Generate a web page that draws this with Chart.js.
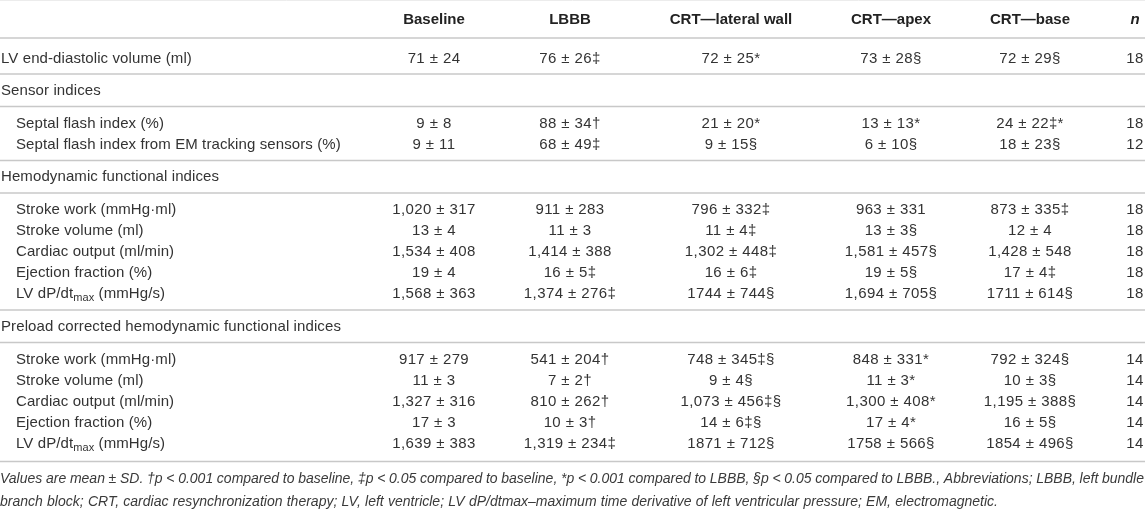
<!DOCTYPE html>
<html>
<head>
<meta charset="utf-8">
<script src="https://cdn.jsdelivr.net/npm/chart.js@4.4.1/dist/chart.umd.min.js"></script>
<style>
  html, body { margin: 0; padding: 0; background: #ffffff; }
  #wrap { width: 1145px; height: 509px; position: relative; }
</style>
</head>
<body>
<div id="wrap"><canvas id="c"></canvas></div>
<script>
// ---------------- DATA ----------------
const columns = ["Baseline", "LBBB", "CRT\u2014lateral wall", "CRT\u2014apex", "CRT\u2014base", "n"];

const sectionTitles = ["", "Sensor indices", "Hemodynamic functional indices", "Preload corrected hemodynamic functional indices"];
const sectionSizes = [1, 2, 5, 5];

const rowLabels = [
  "LV end-diastolic volume (ml)",
  "Septal flash index (%)",
  "Septal flash index from EM tracking sensors (%)",
  "Stroke work (mmHg\u00b7ml)",
  "Stroke volume (ml)",
  "Cardiac output (ml/min)",
  "Ejection fraction (%)",
  "LV dP/dt_{max} (mmHg/s)",
  "Stroke work (mmHg\u00b7ml)",
  "Stroke volume (ml)",
  "Cardiac output (ml/min)",
  "Ejection fraction (%)",
  "LV dP/dt_{max} (mmHg/s)"
];

const baseline = ["71 ± 24", "9 ± 8", "9 ± 11", "1,020 ± 317", "13 ± 4", "1,534 ± 408", "19 ± 4", "1,568 ± 363",
                  "917 ± 279", "11 ± 3", "1,327 ± 316", "17 ± 3", "1,639 ± 383"];
const lbbb = ["76 ± 26‡", "88 ± 34†", "68 ± 49‡", "911 ± 283", "11 ± 3", "1,414 ± 388", "16 ± 5‡", "1,374 ± 276‡",
              "541 ± 204†", "7 ± 2†", "810 ± 262†", "10 ± 3†", "1,319 ± 234‡"];
const crtLateral = ["72 ± 25*", "21 ± 20*", "9 ± 15§", "796 ± 332‡", "11 ± 4‡", "1,302 ± 448‡", "16 ± 6‡", "1744 ± 744§",
                    "748 ± 345‡§", "9 ± 4§", "1,073 ± 456‡§", "14 ± 6‡§", "1871 ± 712§"];
const crtApex = ["73 ± 28§", "13 ± 13*", "6 ± 10§", "963 ± 331", "13 ± 3§", "1,581 ± 457§", "19 ± 5§", "1,694 ± 705§",
                 "848 ± 331*", "11 ± 3*", "1,300 ± 408*", "17 ± 4*", "1758 ± 566§"];
const crtBase = ["72 ± 29§", "24 ± 22‡*", "18 ± 23§", "873 ± 335‡", "12 ± 4", "1,428 ± 548", "17 ± 4‡", "1711 ± 614§",
                 "792 ± 324§", "10 ± 3§", "1,195 ± 388§", "16 ± 5§", "1854 ± 496§"];
const nValues = ["18", "18", "12", "18", "18", "18", "18", "18", "14", "14", "14", "14", "14"];

const footnoteLines = [
  "Values are mean ± SD. †p < 0.001 compared to baseline, ‡p < 0.05 compared to baseline, *p < 0.001 compared to LBBB, §p < 0.05 compared to LBBB., Abbreviations; LBBB, left bundle",
  "branch block; CRT, cardiac resynchronization therapy; LV, left ventricle; LV dP/dtmax\u2013maximum time derivative of left ventricular pressure; EM, electromagnetic."
];

// ---------------- LAYOUT (styling, not data) ----------------
const W = 1145, H = 509;
const FONT = "'Liberation Sans', Arial, Helvetica, sans-serif";
const colCenters = [434, 570, 731, 891, 1030, 1135];
const headerY = 20;
const headerRule = 38;
const rowStep = 21;
const indentX = 16;

// compute vertical positions from the section structure
const dataY = [], titleY = [], rules = [headerRule];
(function () {
  let y = headerRule;
  sectionSizes.forEach((n, g) => {
    if (sectionTitles[g]) {
      titleY.push({ g, y: y + 16.5 });
      y += 32.5;
      rules.push(y);
    }
    const padTop = g === 0 ? 21 : 17;
    const padBot = g === 0 ? 15 : (g === sectionSizes.length - 1 ? 18 : 16);
    let last = y;
    for (let i = 0; i < n; i++) { last = y + padTop + i * rowStep; dataY.push(last); }
    y = last + padBot;
    rules.push(y);
  });
})();
const footY = [479, 502];

const valueCols = [baseline, lbbb, crtLateral, crtApex, crtBase, nValues];

const datasets = [];
datasets.push({
  label: "header", texts: columns, align: "center", spacing: "0px",
  font: (i) => (i === 5 ? "italic bold 15px " : "bold 15px ") + FONT, color: "#222",
  data: columns.map((_, i) => ({ x: colCenters[i], y: headerY }))
});
datasets.push({
  label: "rowLabels", texts: rowLabels, align: "left", spacing: "0.1px",
  font: () => "15px " + FONT, color: "#333",
  data: rowLabels.map((_, i) => ({ x: i === 0 ? 1 : indentX, y: dataY[i] }))
});
datasets.push({
  label: "sections", texts: titleY.map(t => sectionTitles[t.g]), align: "left", spacing: "0.1px",
  font: () => "15px " + FONT, color: "#333",
  data: titleY.map(t => ({ x: 1, y: t.y }))
});
valueCols.forEach((vals, c) => {
  datasets.push({
    label: columns[c], texts: vals, align: "center", spacing: "0.4px",
    font: () => "15px " + FONT, color: "#333",
    data: vals.map((_, i) => ({ x: colCenters[c], y: dataY[i] }))
  });
});

function segs(text) {
  const out = []; const re = /_\{([^}]*)\}/g; let last = 0, m;
  while ((m = re.exec(text))) {
    if (m.index > last) out.push({ t: text.slice(last, m.index), sub: false });
    out.push({ t: m[1], sub: true }); last = re.lastIndex;
  }
  if (last < text.length) out.push({ t: text.slice(last), sub: false });
  return out;
}
function drawRich(ctx, text, x, y, align, font, spacing) {
  const parts = segs(text);
  const subFont = "11px " + FONT;
  if ("letterSpacing" in ctx) ctx.letterSpacing = spacing || "0px";
  let total = 0;
  parts.forEach(p => { ctx.font = p.sub ? subFont : font; p.w = ctx.measureText(p.t).width; total += p.w; });
  let cx = align === "center" ? x - total / 2 : (align === "right" ? x - total : x);
  ctx.textAlign = "left";
  ctx.textBaseline = "middle";
  parts.forEach(p => {
    ctx.font = p.sub ? subFont : font;
    ctx.fillText(p.t, cx, p.sub ? y + 4 : y);
    cx += p.w;
  });
  if ("letterSpacing" in ctx) ctx.letterSpacing = "0px";
}
function drawJustified(ctx, line, x0, x1, y) {
  const words = line.split(" ");
  const ws = words.map(w => ctx.measureText(w).width);
  const sum = ws.reduce((a, b) => a + b, 0);
  const gap = Math.max(1.5, (x1 - x0 - sum) / (words.length - 1));
  let cx = x0;
  words.forEach((w, i) => { ctx.fillText(w, cx, y); cx += ws[i] + gap; });
}

const tablePlugin = {
  id: "tablePlugin",
  beforeDatasetsDraw(chart) {
    const { ctx, scales: { x, y } } = chart;
    ctx.save();
    ctx.strokeStyle = "#ececec"; ctx.lineWidth = 1;
    ctx.beginPath(); ctx.moveTo(x.getPixelForValue(0), y.getPixelForValue(0.5)); ctx.lineTo(x.getPixelForValue(W), y.getPixelForValue(0.5)); ctx.stroke();
    ctx.strokeStyle = "#c8c8c8"; ctx.lineWidth = 1.6;
    rules.forEach(r => {
      const py = y.getPixelForValue(r);
      ctx.beginPath(); ctx.moveTo(x.getPixelForValue(0), py); ctx.lineTo(x.getPixelForValue(W), py); ctx.stroke();
    });
    ctx.restore();
  },
  afterDatasetsDraw(chart) {
    const { ctx, scales: { x, y } } = chart;
    ctx.save();
    chart.data.datasets.forEach((ds, di) => {
      const meta = chart.getDatasetMeta(di);
      ctx.fillStyle = ds.color;
      meta.data.forEach((el, j) => {
        drawRich(ctx, String(ds.texts[j]), el.x, el.y, ds.align, ds.font(j), ds.spacing);
      });
    });
    ctx.font = "italic 14px " + FONT;
    ctx.fillStyle = "#3a3a3a";
    ctx.textBaseline = "middle"; ctx.textAlign = "left";
    drawJustified(ctx, footnoteLines[0], x.getPixelForValue(0), x.getPixelForValue(W - 1), y.getPixelForValue(footY[0]));
    drawJustified(ctx, footnoteLines[1], x.getPixelForValue(0), x.getPixelForValue(998), y.getPixelForValue(footY[1]));
    ctx.restore();
  }
};

new Chart(document.getElementById("c"), {
  type: "scatter",
  data: { datasets: datasets.map(d => Object.assign({ pointRadius: 0, pointHoverRadius: 0, clip: false }, d)) },
  options: {
    responsive: true, maintainAspectRatio: false, animation: false,
    layout: { padding: 0 },
    events: [],
    plugins: { legend: { display: false }, tooltip: { enabled: false } },
    scales: {
      x: { type: "linear", min: 0, max: W, display: false },
      y: { type: "linear", min: 0, max: H, reverse: true, display: false }
    }
  },
  plugins: [tablePlugin]
});
</script>
</body>
</html>
